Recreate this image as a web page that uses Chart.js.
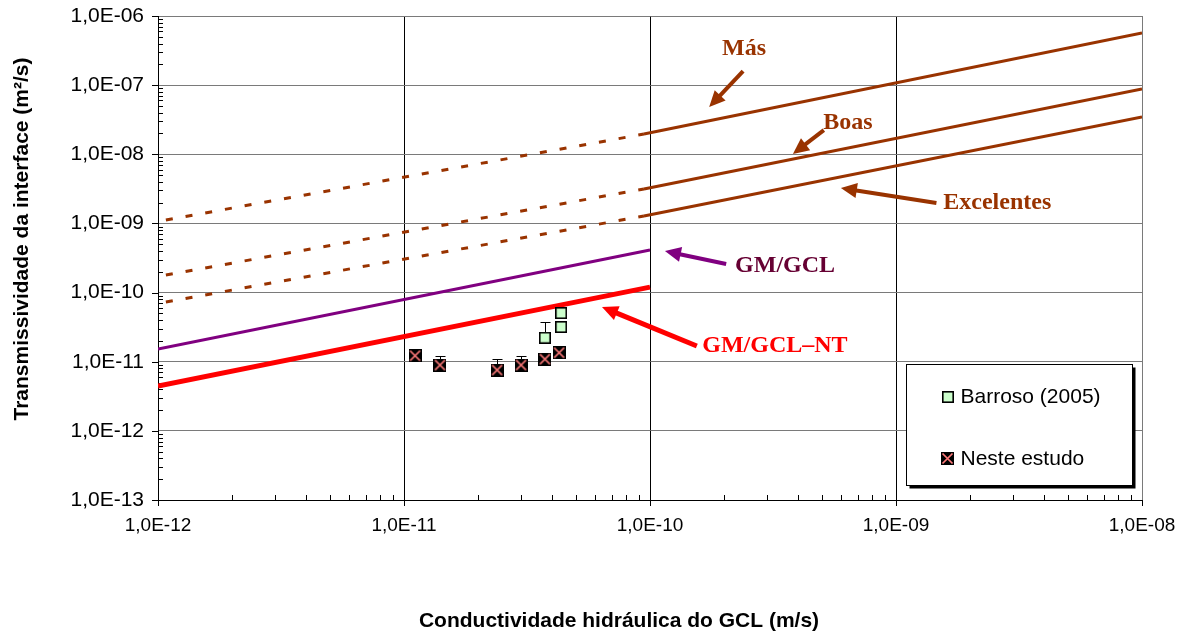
<!DOCTYPE html>
<html>
<head>
<meta charset="utf-8">
<script src="https://cdn.jsdelivr.net/npm/chart.js@4.4.0/dist/chart.umd.min.js"></script>
<style>
  html, body { margin: 0; padding: 0; background: #fff; }
  #wrap { width: 1187px; height: 634px; }
</style>
</head>
<body>
<div id="wrap"><canvas id="c" width="1187" height="634"></canvas></div>
<script>
// ---- axis decades and tick labels ----
const xDecades = [1e-12, 1e-11, 1e-10, 1e-9, 1e-8];
const xTickLabels = ['1,0E-12', '1,0E-11', '1,0E-10', '1,0E-09', '1,0E-08'];
const yDecades = [1e-13, 1e-12, 1e-11, 1e-10, 1e-9, 1e-8, 1e-7, 1e-6];
const yTickLabels = ['1,0E-13', '1,0E-12', '1,0E-11', '1,0E-10', '1,0E-09', '1,0E-08', '1,0E-07', '1,0E-06'];

// ---- contact-quality criteria (dotted = extrapolated range, solid = validity range) ----
const dottedK = [1e-12, 9.45e-11];
const solidK = [9.45e-11, 1e-8];
const masDotted = [1.07e-9, 1.96e-8];
const masSolid = [1.96e-8, 5.68e-7];
const boasDotted = [1.71e-10, 3.15e-9];
const boasSolid = [3.15e-9, 8.8e-8];
const excDotted = [6.97e-11, 1.28e-9];
const excSolid = [1.28e-9, 3.46e-8];

// ---- GM/GCL interface fits ----
const gmK = [1e-12, 1e-10];
const gmGcl = [1.53e-11, 4.13e-10];
const gmGclNt = [4.46e-12, 1.20e-10];

// ---- measured points ----
const barrosoK = [3.74e-11, 4.35e-11, 4.35e-11];
const barrosoT = [2.22e-11, 5.06e-11, 3.18e-11];
const barrosoErr = [1.57e-11, 0, 0];
const nesteK = [1.109e-11, 1.40e-11, 2.39e-11, 2.99e-11, 3.74e-11, 4.27e-11];
const nesteT = [1.22e-11, 8.95e-12, 7.58e-12, 8.95e-12, 1.09e-11, 1.35e-11];
const nesteErr = [1.4e-12, 3.3e-12, 3.5e-12, 3.3e-12, 0, 0];

// ---- callouts (text position, arrow tail, arrow tip) ----
const noteText = ['Más', 'Boas', 'Excelentes', 'GM/GCL', 'GM/GCL\u2013NT'];
const noteK = [2.41e-10, 6.38e-10, 2.58e-9, 3.54e-10, 3.22e-10];
const noteT = [3.33e-7, 2.83e-8, 1.97e-9, 2.42e-10, 1.69e-11];
const tailK = [2.39e-10, 5.09e-10, 1.46e-9, 2.04e-10, 1.55e-10];
const tailT = [1.60e-7, 2.24e-8, 1.97e-9, 2.59e-10, 1.69e-11];
const tipK = [1.74e-10, 3.81e-10, 5.97e-10, 1.15e-10, 6.38e-11];
const tipT = [4.83e-8, 1.01e-8, 3.25e-9, 3.99e-10, 6.18e-11];

const BROWN = '#993300', PURPLE = '#800080', RED = '#FF0000';
const noteTextColor = [BROWN, BROWN, BROWN, '#660033', RED];
const noteArrowColor = [BROWN, BROWN, BROWN, PURPLE, RED];
const noteArrowWidth = [4, 4, 4, 4, 5];

const SANS = "'Liberation Sans', Arial, sans-serif";
const SERIF = "'Liberation Serif', 'Times New Roman', serif";

function pts(xs, ys) { return xs.map((x, i) => ({ x: x, y: ys[i] })); }

// marker glyphs
function nesteMarker(size) {
  const c = document.createElement('canvas');
  c.width = c.height = size;
  const g = c.getContext('2d');
  g.fillStyle = '#000';
  g.fillRect(0, 0, size, size);
  g.strokeStyle = '#FF7A7A';
  g.lineWidth = 1.7;
  g.beginPath();
  g.moveTo(1.5, 1.5); g.lineTo(size - 1.5, size - 1.5);
  g.moveTo(size - 1.5, 1.5); g.lineTo(1.5, size - 1.5);
  g.stroke();
  return c;
}
function barrosoMarker(size) {
  const c = document.createElement('canvas');
  c.width = c.height = size;
  const g = c.getContext('2d');
  g.fillStyle = '#CCFFCC';
  g.fillRect(0, 0, size, size);
  g.strokeStyle = '#000';
  g.lineWidth = 1.6;
  g.strokeRect(0.8, 0.8, size - 1.6, size - 1.6);
  return c;
}
const nesteGlyph = nesteMarker(13);
const barrosoGlyph = barrosoMarker(12);

function lineSet(xs, ys, color, width, dashed) {
  return {
    data: pts(xs, ys),
    showLine: true,
    pointRadius: 0,
    borderColor: color,
    borderWidth: width,
    borderDash: dashed ? [7, 13] : [],
    borderDashOffset: dashed ? 12 : 0,
    borderCapStyle: 'butt',
    fill: false
  };
}

const datasets = [
  { label: 'Neste estudo', data: pts(nesteK, nesteT), errUp: nesteErr,
    pointStyle: nesteGlyph, pointRadius: 6, showLine: false },
  { label: 'Barroso (2005)', data: pts(barrosoK, barrosoT), errUp: barrosoErr,
    pointStyle: barrosoGlyph, pointRadius: 6, showLine: false },
  lineSet(gmK, gmGclNt, RED, 5, false),
  lineSet(gmK, gmGcl, PURPLE, 3, false),
  lineSet(dottedK, masDotted, BROWN, 3, true),
  lineSet(solidK, masSolid, BROWN, 3, false),
  lineSet(dottedK, boasDotted, BROWN, 3, true),
  lineSet(solidK, boasSolid, BROWN, 3, false),
  lineSet(dottedK, excDotted, BROWN, 3, true),
  lineSet(solidK, excSolid, BROWN, 3, false)
];
const legendOrder = [1, 0];

// tick marks: major outward, minor inward
const tickMarks = {
  id: 'tickMarks',
  beforeDatasetsDraw(chart) {
    const { ctx, chartArea: a, scales: { x, y } } = chart;
    ctx.save();
    ctx.strokeStyle = '#000';
    ctx.lineWidth = 1;
    ctx.beginPath();
    yDecades.forEach((d, i) => {
      const py = Math.round(y.getPixelForValue(d)) + 0.5;
      ctx.moveTo(a.left - 6, py); ctx.lineTo(a.left, py);
      if (i < yDecades.length - 1) {
        for (let m = 2; m <= 9; m++) {
          const p = Math.round(y.getPixelForValue(m * d)) + 0.5;
          ctx.moveTo(a.left, p); ctx.lineTo(a.left + 5, p);
        }
      }
    });
    xDecades.forEach((d, i) => {
      const px = Math.round(x.getPixelForValue(d)) + 0.5;
      ctx.moveTo(px, a.bottom); ctx.lineTo(px, a.bottom + 6);
      if (i < xDecades.length - 1) {
        for (let m = 2; m <= 9; m++) {
          const p = Math.round(x.getPixelForValue(m * d)) + 0.5;
          ctx.moveTo(p, a.bottom); ctx.lineTo(p, a.bottom - 5);
        }
      }
    });
    ctx.stroke();
    ctx.restore();
  }
};

// upper error bars under each marker set
const errorBars = {
  id: 'errorBars',
  beforeDatasetDraw(chart, args) {
    const ds = chart.data.datasets[args.index];
    if (!ds.errUp) return;
    const { ctx, scales: { x, y } } = chart;
    ctx.save();
    ctx.strokeStyle = '#000';
    ctx.lineWidth = 1;
    ds.data.forEach((p, i) => {
      const e = ds.errUp[i];
      if (!e) return;
      const px = Math.round(x.getPixelForValue(p.x)) + 0.5;
      const y0 = y.getPixelForValue(p.y);
      const y1 = Math.round(y.getPixelForValue(p.y + e)) + 0.5;
      ctx.beginPath();
      ctx.moveTo(px, y0); ctx.lineTo(px, y1);
      ctx.moveTo(px - 5, y1); ctx.lineTo(px + 5, y1);
      ctx.stroke();
    });
    ctx.restore();
  }
};

// callout labels with arrows
const callouts = {
  id: 'callouts',
  afterDatasetsDraw(chart) {
    const { ctx, scales: { x, y } } = chart;
    ctx.save();
    noteText.forEach((t, i) => {
      const x0 = x.getPixelForValue(tailK[i]), y0 = y.getPixelForValue(tailT[i]);
      const x1 = x.getPixelForValue(tipK[i]), y1 = y.getPixelForValue(tipT[i]);
      const ang = Math.atan2(y1 - y0, x1 - x0);
      const head = 16, half = 7.5;
      const bx = x1 - head * Math.cos(ang), by = y1 - head * Math.sin(ang);
      ctx.strokeStyle = noteArrowColor[i];
      ctx.fillStyle = noteArrowColor[i];
      ctx.lineWidth = noteArrowWidth[i];
      ctx.lineCap = 'butt';
      ctx.beginPath();
      ctx.moveTo(x0, y0); ctx.lineTo(bx + 2 * Math.cos(ang), by + 2 * Math.sin(ang));
      ctx.stroke();
      ctx.beginPath();
      ctx.moveTo(x1, y1);
      ctx.lineTo(bx + half * Math.sin(ang), by - half * Math.cos(ang));
      ctx.lineTo(bx - half * Math.sin(ang), by + half * Math.cos(ang));
      ctx.closePath();
      ctx.fill();

      ctx.fillStyle = noteTextColor[i];
      ctx.font = 'bold 24px ' + SERIF;
      ctx.textAlign = 'center';
      ctx.textBaseline = 'middle';
      ctx.fillText(t, x.getPixelForValue(noteK[i]), y.getPixelForValue(noteT[i]));
    });
    ctx.restore();
  }
};

// boxed legend with drop shadow, inside the lower-right of the plot
const boxLegend = {
  id: 'boxLegend',
  afterDraw(chart) {
    const { ctx, chartArea: a } = chart;
    const w = 226, h = 121;
    const bx = a.right - 235.5, by = a.bottom - 135.5;
    ctx.save();
    ctx.fillStyle = '#000';
    ctx.fillRect(bx + 3, by + 3, w, h);
    ctx.fillStyle = '#fff';
    ctx.fillRect(bx, by, w, h);
    ctx.strokeStyle = '#000';
    ctx.lineWidth = 1;
    ctx.strokeRect(bx, by, w, h);
    ctx.font = '21px ' + SANS;
    ctx.textAlign = 'left';
    ctx.textBaseline = 'middle';
    ctx.fillStyle = '#000';
    legendOrder.forEach((di, k) => {
      const ds = chart.data.datasets[di];
      const cy = by + 32 + k * 62;
      const g = ds.pointStyle;
      ctx.drawImage(g, Math.round(bx + 41 - g.width / 2), Math.round(cy - g.height / 2));
      ctx.fillText(ds.label, bx + 54, cy + 1);
    });
    ctx.restore();
  }
};

// axis titles
const axisTitles = {
  id: 'axisTitles',
  afterDraw(chart) {
    const { ctx } = chart;
    ctx.save();
    ctx.fillStyle = '#000';
    ctx.font = 'bold 21px ' + SANS;
    ctx.textAlign = 'center';
    ctx.textBaseline = 'middle';
    ctx.fillText('Conductividade hidráulica do GCL (m/s)', 619, 621);
    ctx.translate(22, 239);
    ctx.rotate(-Math.PI / 2);
    ctx.fillText('Transmissividade da interface (m\u00B2/s)', 0, 0);
    ctx.restore();
  }
};

const GRID_GRAY = '#7a7a7a';

new Chart(document.getElementById('c'), {
  type: 'scatter',
  data: { datasets: datasets },
  plugins: [tickMarks, errorBars, callouts, boxLegend, axisTitles],
  options: {
    responsive: false,
    animation: false,
    events: [],
    layout: { padding: { top: 16, right: 45, left: 0, bottom: 0 } },
    plugins: { legend: { display: false }, tooltip: { enabled: false } },
    scales: {
      x: {
        type: 'logarithmic',
        min: xDecades[0],
        max: xDecades[xDecades.length - 1],
        afterFit(s) { s.height = 134; s.paddingLeft = 0; s.paddingRight = 0; },
        afterBuildTicks(s) { s.ticks = xDecades.map(v => ({ value: v, major: true })); },
        ticks: {
          autoSkip: false, maxRotation: 0, padding: 14, color: '#000',
          font: { family: SANS, size: 19 },
          callback: (v, i) => xTickLabels[i]
        },
        grid: {
          drawTicks: false,
          lineWidth: 1,
          color: c => (c.index === xDecades.length - 1 ? GRID_GRAY : '#000')
        },
        border: { color: '#000', width: 1 }
      },
      y: {
        type: 'logarithmic',
        min: yDecades[0],
        max: yDecades[yDecades.length - 1],
        afterFit(s) { s.width = 158; s.paddingTop = 0; s.paddingBottom = 0; },
        afterBuildTicks(s) { s.ticks = yDecades.map(v => ({ value: v, major: true })); },
        ticks: {
          autoSkip: false, padding: 14, color: '#000',
          font: { family: SANS, size: 21 },
          callback: (v, i) => yTickLabels[i]
        },
        grid: { drawTicks: false, lineWidth: 1, color: GRID_GRAY },
        border: { color: '#000', width: 1 }
      }
    }
  }
});
</script>
</body>
</html>
